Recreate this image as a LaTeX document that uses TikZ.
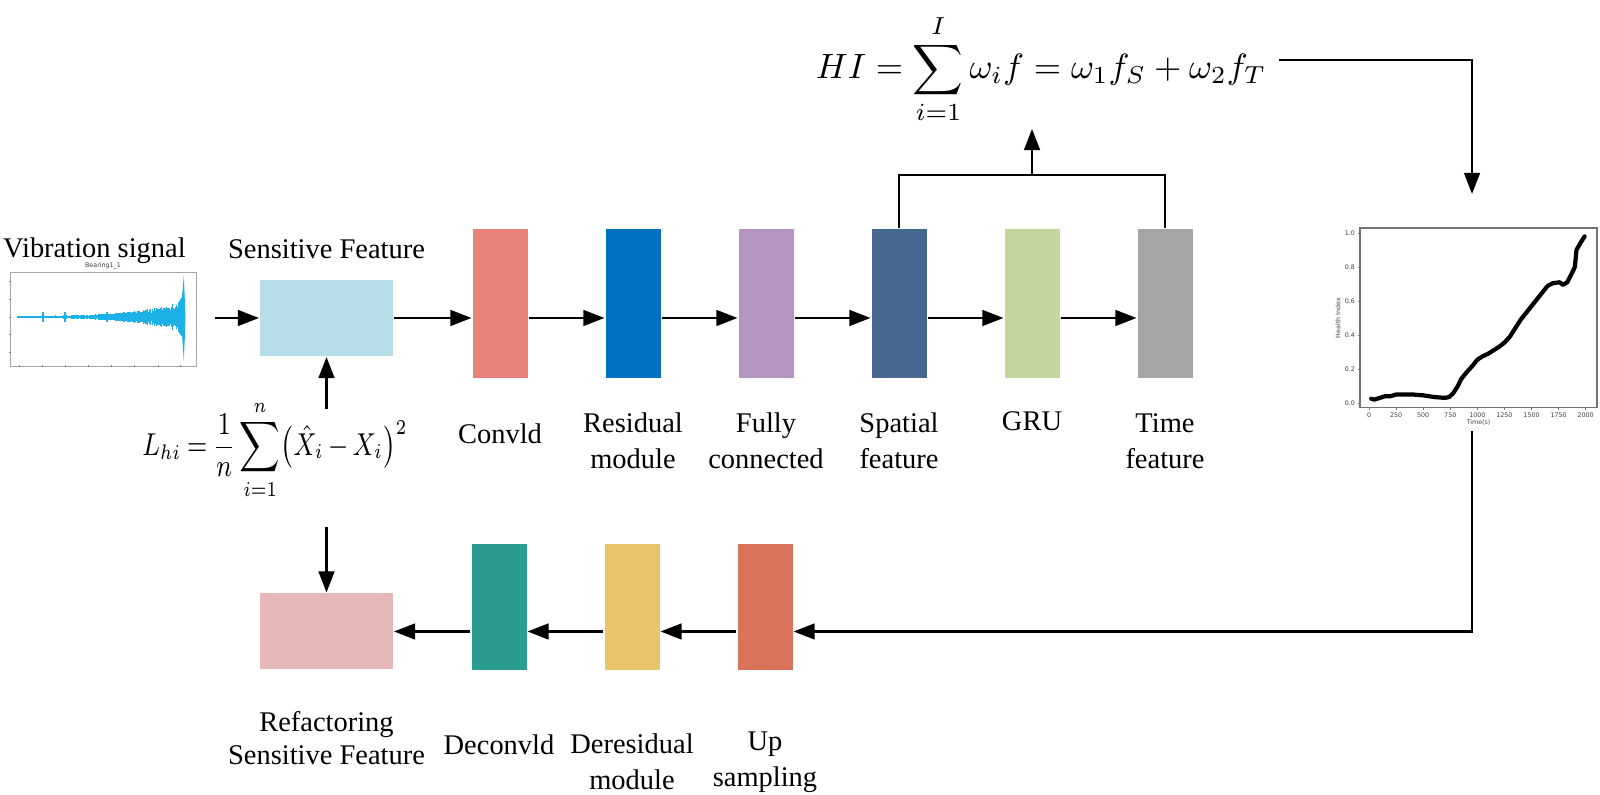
\documentclass[tikz,border=0pt]{standalone}
\usepackage[no-math]{fontspec}
\usepackage{graphicx}
\setmainfont{Liberation Serif}
\newfontfamily\plotfont{DejaVu Sans}
\usetikzlibrary{arrows.meta}
\usetikzlibrary{positioning}

\definecolor{convcol}{RGB}{233,131,122}
\definecolor{rescol}{RGB}{0,112,192}
\definecolor{fullcol}{RGB}{180,148,192}
\definecolor{spatcol}{RGB}{70,103,143}
\definecolor{grucol}{RGB}{195,214,155}
\definecolor{timecol}{RGB}{165,165,165}
\definecolor{senscol}{RGB}{183,222,232}
\definecolor{deconvcol}{RGB}{42,157,143}
\definecolor{derescol}{RGB}{232,196,107}
\definecolor{upcol}{RGB}{217,115,90}
\definecolor{refcol}{RGB}{230,185,184}
\definecolor{sigcol}{RGB}{27,176,230}

\tikzset{
    layer/.style={
           rectangle,
           minimum width=0.55cm,
           minimum height=1.49cm,
           inner sep=0pt,
           },
    feature/.style={
           rectangle,
           minimum width=1.33cm,
           minimum height=0.76cm,
           inner sep=0pt,
           },
    caption/.style={
           align=center,
           inner sep=1pt,
           font=\fontsize{8.1}{10.2}\selectfont,
           },
    tick/.style={
           inner sep=0.3pt,
           font=\plotfont\fontsize{1.8}{2}\selectfont,
           text=black!75,
           },
}

\begin{document}
\begin{tikzpicture}[>={Triangle[length=6pt,width=4.5pt]}, line width=0.6pt]
  \useasboundingbox (0,0) rectangle (16,7.95);

   % encoder: sensitive feature and the layers to the right of it
   \node[feature,fill=senscol] (SENS) at (3.265,4.77) {};
   \node[layer,fill=convcol] (CONV) at (5.00,4.915) {};
   \node[layer,fill=rescol,
    right of=CONV,          % next layer
    node distance=1.33cm] (RES) {};
   \node[layer,fill=fullcol,
    right of=RES,
    node distance=1.33cm] (FULL) {};
   \node[layer,fill=spatcol,
    right of=FULL,
    node distance=1.33cm] (SPAT) {};
   \node[layer,fill=grucol,
    right of=SPAT,
    node distance=1.33cm] (GRU) {};
   \node[layer,fill=timecol,
    right of=GRU,
    node distance=1.33cm] (TIME) {};

   % decoder: same columns, lower row
   \node[layer,fill=upcol,minimum height=1.26cm] (UP) at (7.65,1.88) {};
   \node[layer,fill=derescol,minimum height=1.26cm,
    left of=UP,
    node distance=1.33cm] (DERES) {};
   \node[layer,fill=deconvcol,minimum height=1.26cm,
    left of=DERES,
    node distance=1.33cm] (DECONV) {};
   \node[feature,fill=refcol] (REF) at (3.265,1.635) {};

   % captions
   \node[caption] (VIBTXT) at (0.945,5.44) {Vibration signal};
   \node[caption,above of=SENS,node distance=0.69cm] (SENSTXT) {Sensitive Feature};
   \node[caption,below of=CONV,node distance=1.305cm] (CONVTXT) {Convld};
   \node[caption,below of=RES,node distance=1.375cm] (RESTXT) {Residual\\module};
   \node[caption,below of=FULL,node distance=1.375cm] (FULLTXT) {Fully\\connected};
   \node[caption,below of=SPAT,node distance=1.375cm] (SPATTXT) {Spatial\\feature};
   \node[caption,below of=GRU,node distance=1.175cm] (GRUTXT) {GRU};
   \node[caption,below of=TIME,node distance=1.375cm] (TIMETXT) {Time\\feature};
   \node[caption,below of=REF,node distance=1.065cm,
    font=\fontsize{8.1}{9.4}\selectfont] (REFTXT) {Refactoring\\Sensitive Feature};
   \node[caption,below of=DECONV,node distance=1.38cm] (DECONVTXT) {Deconvld};
   \node[caption,below of=DERES,node distance=1.55cm] (DERESTXT) {Deresidual\\module};
   \node[caption,below of=UP,node distance=1.55cm] (UPTXT) {Up\\sampling};

   % formulas
   \node (HI) at (10.41,7.26)
    {\fontsize{10.3}{12}\selectfont $\displaystyle HI=\sum_{i=1}^{I}\omega_i f=\omega_1 f_S+\omega_2 f_T$};
   % narrow like the original equation
   \node (LOSS) at (2.75,3.45)
    {\scalebox{0.8}[1]{\fontsize{8.8}{10}\selectfont \thickmuskip=4mu \medmuskip=3mu
     $\displaystyle L_{hi}=\frac{1}{n}\sum_{i=1}^{n}\bigl(\hat{X}_i-X_i\bigr)^2$}};
   \coordinate (LOSSUP) at (3.265,3.86);
   \coordinate (LOSSDOWN) at (3.265,2.68);

   % vibration signal plot
   \node[inner sep=0pt,minimum width=1.84cm,minimum height=0.92cm] (VIB) at (1.03,4.76) {};
   \draw[black!35,line width=0.2pt] (VIB.south west) rectangle (VIB.north east);
   \node[tick,above=0.2pt of VIB] {Bearing1\_1};
   \pgfmathsetseed{11}
   \foreach \x in {0.18,0.185,...,1.80} {
     \pgfmathsetmacro{\amp}{(0.014+0.13*((\x-0.18)/1.62)^3)*(0.5+0.5*rnd)}
     \draw[sigcol,line width=0.3pt] (\x,4.78-\amp) -- (\x,4.78+\amp);
   }
   \foreach \x in {0.43,0.65,1.07}
     \draw[sigcol,line width=0.4pt] (\x,4.73) -- (\x,4.83);
   \fill[sigcol] (1.78,4.92) -- (1.82,4.98) -- (1.838,5.19) -- (1.848,4.96) -- (1.855,4.78)
     -- (1.848,4.57) -- (1.838,4.34) -- (1.822,4.58) -- (1.78,4.64) -- cycle;
   \foreach \y in {4.43,4.61,4.78,4.96,5.14}
     \draw[black!50,line width=0.2pt] (0.11,\y) -- (0.09,\y);
   \foreach \x in {0.19,0.42,0.65,0.88,1.11,1.34,1.58,1.80}
     \draw[black!50,line width=0.2pt] (\x,4.30) -- (\x,4.28);

   % health index plot
   \node[inner sep=0pt,minimum width=3cm,minimum height=2.35cm] (HIPLOT) at (14.72,4.825) {};
   \draw[black!55,line width=0.35pt] (13.60,3.875) rectangle (15.97,5.67);
   \foreach \v/\t in {0/0.0,0.2/0.2,0.4/0.4,0.6/0.6,0.8/0.8,1/1.0} {
     \draw[black!55,line width=0.25pt] (13.60,3.92+1.70*\v) -- (13.575,3.92+1.70*\v);
     \node[tick,anchor=east] at (13.57,3.92+1.70*\v) {\t};
   }
   \foreach \d in {0,250,...,2000} {
     \draw[black!55,line width=0.25pt] (13.69+0.001084*\d,3.875) -- (13.69+0.001084*\d,3.85);
     \node[tick,anchor=north] at (13.69+0.001084*\d,3.845) {\d};
   }
   \node[tick,rotate=90] at (13.38,4.77) {Health Index};
   \node[tick] at (14.785,3.72) {Time(s)};
   \begin{scope}[shift={(13.69,3.92)},x=0.001084cm,y=1.70cm]
     \draw[line width=1.2pt,line join=round,line cap=round] plot coordinates {
       (20,0.025) (50,0.02) (100,0.03) (150,0.04) (200,0.04) (250,0.05) (300,0.05)
       (400,0.05) (500,0.045) (600,0.035) (700,0.03) (740,0.035) (780,0.06) (820,0.1)
       (850,0.14) (900,0.18) (950,0.215) (1000,0.255) (1050,0.275) (1100,0.29)
       (1150,0.31) (1200,0.33) (1250,0.355) (1300,0.39) (1350,0.44) (1400,0.49)
       (1450,0.53) (1500,0.57) (1550,0.61) (1600,0.65) (1650,0.69) (1700,0.705)
       (1760,0.71) (1790,0.695) (1830,0.71) (1870,0.76) (1900,0.8) (1915,0.9)
       (1950,0.94) (1990,0.98)};
   \end{scope}

   % draw the connections
   \path[->]
   (2.15,4.77) edge (SENS.west)
   (SENS.east) edge (SENS.east -| CONV.west)
   (CONV.east |- SENS) edge (RES.west |- SENS)
   (RES.east |- SENS) edge (FULL.west |- SENS)
   (FULL.east |- SENS) edge (SPAT.west |- SENS)
   (SPAT.east |- SENS) edge (GRU.west |- SENS)
   (GRU.east |- SENS) edge (TIME.west |- SENS)
   (UP.west |- REF) edge (DERES.east |- REF)
   (DERES.west |- REF) edge (DECONV.east |- REF)
   (DECONV.west |- REF) edge (REF.east)
   (LOSSUP) edge (SENS.south)
   (LOSSDOWN) edge (REF.north)
   ;
   \coordinate (JOIN) at (GRU.north |- 0,6.20);
   \draw (SPAT.north) |- (JOIN) -| (TIME.north);
   \draw[->] (JOIN) -- (JOIN |- 0,6.66);
   \draw[->] (HI.east |- 0,7.35) -| (HIPLOT.north);
   \draw[->] (HIPLOT.south) |- (UP.east |- REF);
\end{tikzpicture}
\end{document}
